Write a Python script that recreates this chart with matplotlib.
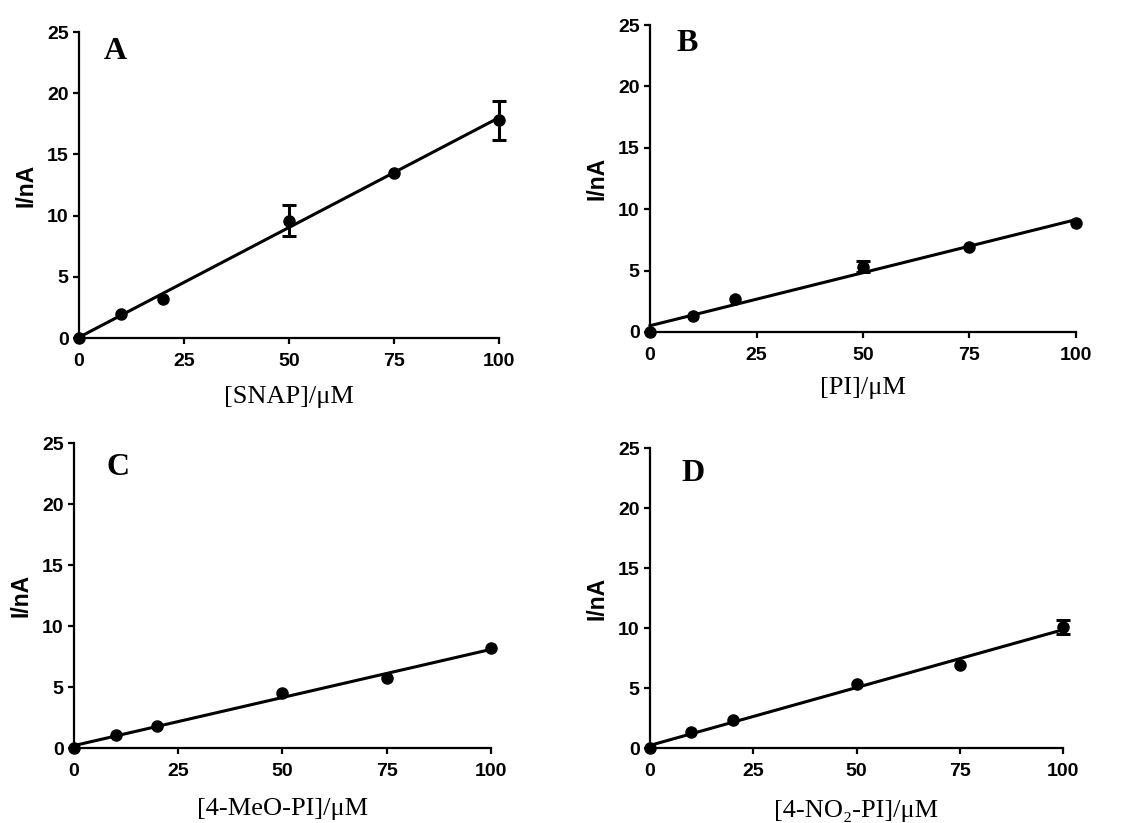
import numpy as np
import matplotlib
matplotlib.use('Agg')
import matplotlib.pyplot as plt

# Concentrations (uM) shared by all panels
conc = [0, 10, 20, 50, 75, 100]

# Currents (nA)
snap_i = [0.0, 2.0, 3.2, 9.6, 13.5, 17.8]
snap_err = [0.0, 0.0, 0.0, 1.25, 0.0, 1.6]
pi_i = [0.0, 1.3, 2.7, 5.3, 6.9, 8.9]
pi_err = [0.0, 0.0, 0.0, 0.45, 0.0, 0.0]
meo_i = [0.0, 1.1, 1.8, 4.5, 5.7, 8.2]
meo_err = [0.0, 0.0, 0.0, 0.0, 0.0, 0.0]
no2_i = [0.0, 1.3, 2.3, 5.3, 6.9, 10.1]
no2_err = [0.0, 0.0, 0.0, 0.0, 0.0, 0.6]

letters = ['A', 'B', 'C', 'D']
xlabels = ['[SNAP]/\u03bcM', '[PI]/\u03bcM', '[4-MeO-PI]/\u03bcM', '[4-NO\u2082-PI]/\u03bcM']
series = [(snap_i, snap_err), (pi_i, pi_err), (meo_i, meo_err), (no2_i, no2_err)]

# axes boxes in figure fractions
boxes = [
    [0.0694, 0.5893, 0.369, 0.3718],
    [0.5712, 0.5966, 0.3743, 0.373],
    [0.0650, 0.0911, 0.3664, 0.3706],
    [0.5712, 0.0911, 0.3629, 0.3645],
]
letter_pos = [(6.0, 23.4), (6.3, 23.5), (7.9, 23.0), (7.7, 22.9)]
xlabel_pads = [12, 10, 13, 15]

serif = ['Liberation Serif', 'DejaVu Serif']
sans = ['Liberation Sans', 'DejaVu Sans']

fig = plt.figure(figsize=(11.38, 8.23), dpi=100)

for k in range(4):
    ax = fig.add_axes(boxes[k])
    y, e = series[k]
    x = np.array(conc, dtype=float)
    y = np.array(y)
    e = np.array(e)

    # linear regression line
    m, b = np.polyfit(x, y, 1)
    xx = np.array([0, 100])
    ax.plot(xx, m * xx + b, color='black', lw=2.2, clip_on=False, zorder=2)

    has = e > 0
    if has.any():
        ax.errorbar(x[has], y[has], yerr=e[has], fmt='none', ecolor='black',
                    elinewidth=2.2, capsize=5, capthick=2.2, clip_on=False, zorder=3)
    ax.plot(x, y, 'o', color='black', ms=8, clip_on=False, zorder=4)

    ax.set_xlim(0, 100)
    ax.set_ylim(0, 25)
    ax.set_xticks([0, 25, 50, 75, 100])
    ax.set_yticks([0, 5, 10, 15, 20, 25])
    for s in ['top', 'right']:
        ax.spines[s].set_visible(False)
    for s in ['left', 'bottom']:
        ax.spines[s].set_linewidth(1.6)
    ax.tick_params(axis='both', direction='out', length=4.5, width=1.6)
    ax.tick_params(axis='x', pad=6)
    ax.tick_params(axis='y', pad=3)
    for lab in ax.get_xticklabels() + ax.get_yticklabels():
        lab.set_family(sans)
        lab.set_fontweight('bold')
        lab.set_fontsize(14)

    ax.set_ylabel('I/nA', family=sans, fontweight='bold', fontsize=16.5, labelpad=7)
    ax.set_xlabel(xlabels[k], family=serif, fontsize=19, labelpad=xlabel_pads[k])
    lx, ly = letter_pos[k]
    ax.text(lx, ly, letters[k], family=serif, fontweight='bold', fontsize=23,
            ha='left', va='center')

fig.savefig('out.png', dpi=100)
